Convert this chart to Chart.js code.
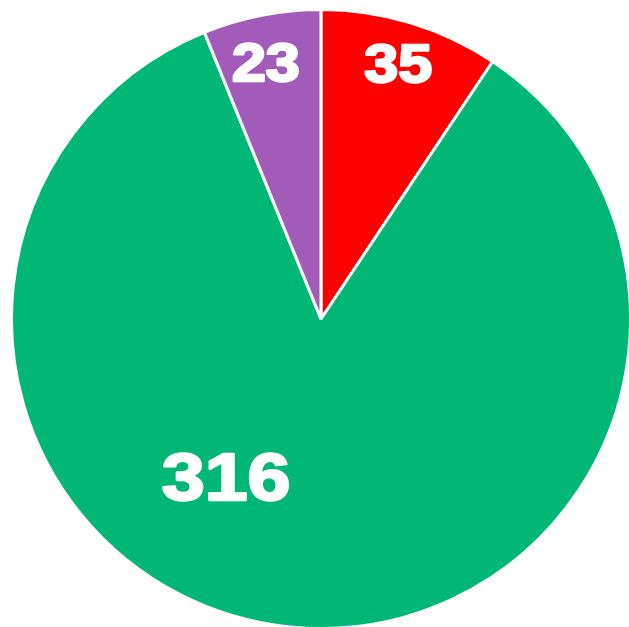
<!DOCTYPE html>
<html lang="en">
<head>
    <meta charset="UTF-8">
    <title>Pie</title>
    <script src="https://cdn.jsdelivr.net/npm/chart.js"></script>
    <style>
        body { margin: 0; background: #fff; overflow: hidden; }
        canvas { display: block; }
    </style>
</head>
<body>
    <canvas id="pieChart" width="632" height="630"></canvas>

    <script>
        // data
        const categories = ['A', 'B', 'C'];
        const values = [35, 316, 23];
        const colors = ['#FF0000', '#00B775', '#A35BB9'];

        // where each label sits inside its slice (fraction of slice angle, fraction of radius)
        const labelAngleFrac = [0.5, 0.582, 0.45];
        const labelRadiusFrac = [0.86, 0.6, 0.845];
        const labelSize = [53, 67, 53];

        const sliceLabels = {
            id: 'sliceLabels',
            afterDatasetsDraw(chart) {
                const ctx = chart.ctx;
                const meta = chart.getDatasetMeta(0);
                meta.data.forEach((arc, i) => {
                    const p = arc.getProps(['x', 'y', 'startAngle', 'endAngle', 'outerRadius'], true);
                    const a = p.startAngle + (p.endAngle - p.startAngle) * labelAngleFrac[i];
                    const r = p.outerRadius * labelRadiusFrac[i];
                    const x = p.x + Math.cos(a) * r;
                    const y = p.y + Math.sin(a) * r;
                    ctx.save();
                    ctx.translate(x, y);
                    ctx.scale(1.15, 1);
                    ctx.fillStyle = '#ffffff';
                    ctx.strokeStyle = '#ffffff';
                    ctx.lineWidth = 2.5;
                    ctx.lineJoin = 'round';
                    ctx.font = 'bold ' + labelSize[i] + 'px "Liberation Sans", Arial, sans-serif';
                    ctx.textAlign = 'center';
                    ctx.textBaseline = 'middle';
                    ctx.fillText(String(values[i]), 0, 3);
                    ctx.strokeText(String(values[i]), 0, 3);
                    ctx.restore();
                });
            }
        };

        const ctx = document.getElementById('pieChart').getContext('2d');
        const chart = new Chart(ctx, {
            type: 'pie',
            data: {
                labels: categories,
                datasets: [{
                    data: values,
                    backgroundColor: colors,
                    borderColor: '#ffffff',
                    borderWidth: 3,
                }],
            },
            options: {
                responsive: false,
                animation: false,
                layout: { padding: { left: 10, top: 8, right: 0, bottom: 0 } },
                plugins: {
                    legend: { display: false },
                    tooltip: { enabled: false },
                },
            },
            plugins: [sliceLabels],
        });
    </script>
</body>
</html>
